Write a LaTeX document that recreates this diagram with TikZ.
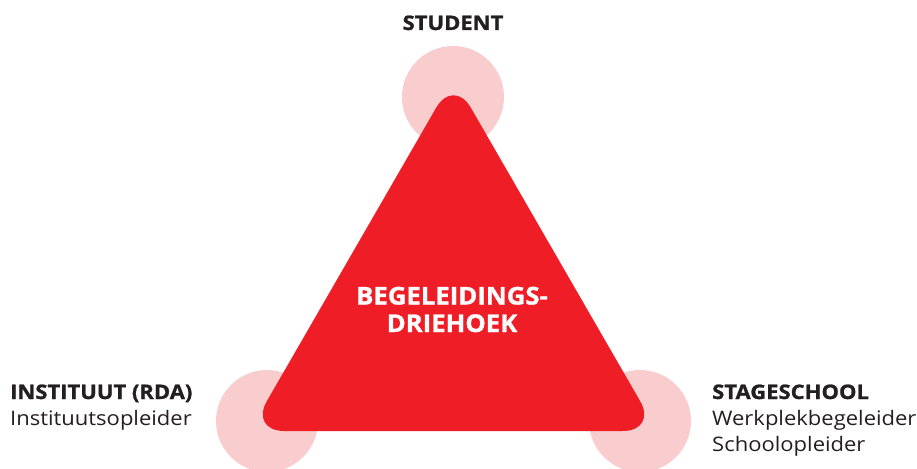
\documentclass[tikz,border=0pt]{standalone}
\usepackage{fontspec}
\setmainfont{Open Sans}[FakeStretch=1.1, BoldFeatures={FakeBold=1.2}]
\newfontfamily\centrefont{Open Sans}[FakeStretch=1.05, BoldFeatures={FakeBold=1.2}]
\definecolor{trired}{HTML}{EE1D26}
\definecolor{circpink}{HTML}{F9CDCE}
\definecolor{txtgrey}{HTML}{231F20}
\tikzset{
  blob/.style={fill=circpink, draw=none},
  title/.style={font=\bfseries\fontsize{20}{26}\selectfont, text=txtgrey, inner sep=0pt},
  sub/.style={font=\fontsize{20}{26}\selectfont, text=txtgrey, inner sep=0pt, align=left},
  centre/.style={font=\centrefont\bfseries\fontsize{24.5}{27.5}\selectfont, text=white, inner sep=0pt, align=center}
}
\begin{document}
\begin{tikzpicture}[x=1pt,y=-1pt]
\useasboundingbox (0,0) rectangle (917,468);
\begin{scope}
\clip (0,0) rectangle (917,468);
\fill[blob] (453,97) circle (51);
\fill[blob] (267,421) circle (51);
\fill[blob] (640,421) circle (51);
\end{scope}
\coordinate (apex) at (453.5,77.7);
\coordinate (bl) at (249.6,431);
\coordinate (br) at (657.4,431);
\fill[trired, rounded corners=34.6pt] (apex) -- (br) -- (bl) -- cycle;
\node[centre, anchor=base] (mid) at (452,332) {BEGELEIDINGS-\\DRIEHOEK};
\node[title, anchor=base] (student) at (453,30) {STUDENT};
\node[title, anchor=base west] (inst) at (10,399) {INSTITUUT (RDA)};
\node[sub, anchor=base west] (instsub) at (10,425.5) {Instituutsopleider};
\node[title, anchor=base west] (stage) at (712,399) {STAGESCHOOL};
\node[sub, anchor=base west] (stagesub) at (712,451.5) {Werkplekbegeleider\\Schoolopleider};
\end{tikzpicture}
\end{document}
